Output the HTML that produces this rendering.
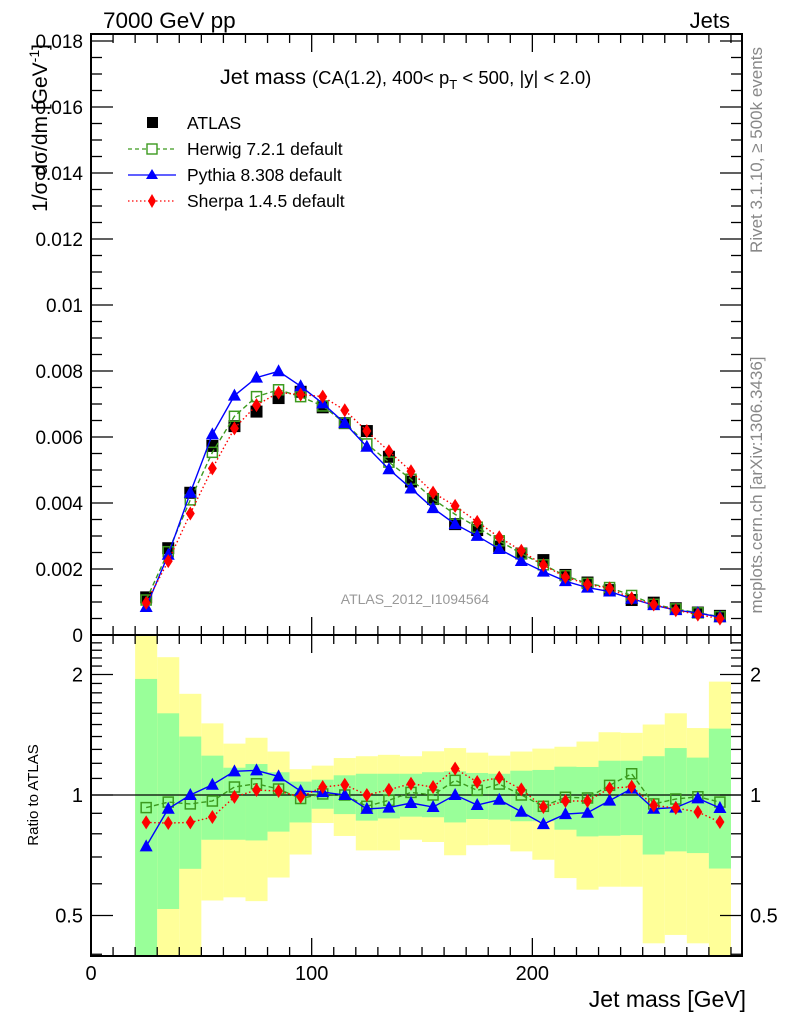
<!DOCTYPE html>
<html><head><meta charset="utf-8"><style>
body{margin:0;background:#fff}
svg{display:block;font-family:"Liberation Sans",sans-serif}
</style></head><body>
<svg id="chart" width="786" height="1024" viewBox="0 0 786 1024" xmlns="http://www.w3.org/2000/svg">
<g id="bands"></g>
<g id="marks"></g>
<g id="axes"></g>
<text x="103" y="28" font-size="22.5">7000 GeV pp</text>
<text x="730" y="28" font-size="22" text-anchor="end">Jets</text>
<text x="220" y="84" font-size="21.5">Jet mass <tspan font-size="18.5">(CA(1.2), 400&lt; p<tspan font-size="13" dy="5">T</tspan><tspan dy="-5"> &lt; 500, |y| &lt; 2.0)</tspan></tspan></text>
<text transform="translate(47,128) rotate(-90)" font-size="21" text-anchor="middle">1/σ dσ/dm [GeV<tspan font-size="14" dy="-8">-1</tspan><tspan dy="8">]</tspan></text>
<text transform="translate(38,795) rotate(-90)" font-size="15" text-anchor="middle">Ratio to ATLAS</text>
<text x="746" y="1007" font-size="23" text-anchor="end">Jet mass [GeV]</text>
<text transform="translate(762,150) rotate(-90)" font-size="17" fill="#888" text-anchor="middle">Rivet 3.1.10, ≥ 500k events</text>
<text transform="translate(762,485) rotate(-90)" font-size="17" fill="#888" text-anchor="middle">mcplots.cern.ch [arXiv:1306.3436]</text>
<text x="415" y="604" font-size="14" fill="#999" text-anchor="middle">ATLAS_2012_I1094564</text>
<g id="legend">
<g><rect x="147" y="117" width="11" height="11" fill="#000"/><text x="187" y="129" font-size="17.5">ATLAS</text></g>
<g><line x1="128" y1="149" x2="176" y2="149" stroke="#3c9a1e" stroke-width="1.3" stroke-dasharray="4,3"/><rect x="147" y="144" width="10" height="10" fill="#fff" stroke="#3c9a1e" stroke-width="1.4"/><text x="187" y="155" font-size="17.5">Herwig 7.2.1 default</text></g>
<g><line x1="128" y1="175" x2="176" y2="175" stroke="#00f" stroke-width="1.3"/><path d="M152,169 L158,179 L146,179Z" fill="#00f"/><text x="187" y="181" font-size="17.5">Pythia 8.308 default</text></g>
<g><line x1="128" y1="201" x2="176" y2="201" stroke="#f00" stroke-width="1.3" stroke-dasharray="1.5,2.5"/><path d="M152,194 L156,201 L152,208 L148,201Z" fill="#f00"/><text x="187" y="207" font-size="17.5">Sherpa 1.4.5 default</text></g>
</g>
</svg>
<script>
const centers=[25,35,45,55,65,75,85,95,105,115,125,135,145,155,165,175,185,195,205,215,225,235,245,255,265,275,285];
const atlas=[1.14,2.63,4.31,5.73,6.33,6.77,7.18,7.37,6.9,6.42,6.18,5.4,4.65,4.12,3.36,3.18,2.68,2.47,2.27,1.82,1.59,1.36,1.06,0.98,0.81,0.68,0.58];
const herwigRatio=[0.93,0.96,0.95,0.966,1.047,1.067,1.035,0.98,1.006,1.0,0.937,0.97,1.015,1.0,1.088,1.027,1.065,1.0,0.937,0.987,0.983,1.057,1.13,0.95,0.977,0.99,0.96];
const pythiaRatio=[0.744,0.924,1.0,1.061,1.146,1.152,1.113,1.023,1.017,1.0,0.923,0.93,0.955,0.933,1.0,0.944,0.973,0.908,0.846,0.896,0.903,0.968,1.037,0.924,0.93,0.981,0.928];
const sherpaRatio=[0.854,0.851,0.854,0.881,0.989,1.029,1.023,0.989,1.047,1.061,1.0,1.031,1.067,1.047,1.164,1.078,1.105,1.033,0.933,0.966,0.966,1.039,1.049,0.942,0.928,0.907,0.856];
const yellowUp=[2.7,2.21,1.79,1.51,1.344,1.39,1.284,1.16,1.184,1.237,1.25,1.26,1.25,1.286,1.31,1.276,1.254,1.284,1.306,1.32,1.36,1.435,1.43,1.5,1.6,1.47,1.92];
const greenUp=[1.95,1.6,1.4,1.254,1.17,1.195,1.14,1.08,1.092,1.12,1.13,1.13,1.13,1.14,1.146,1.135,1.13,1.15,1.155,1.177,1.175,1.218,1.218,1.25,1.31,1.24,1.465];
const greenLow=[0.3,0.519,0.654,0.773,0.773,0.77,0.81,0.854,0.924,0.896,0.863,0.874,0.883,0.88,0.854,0.871,0.868,0.86,0.86,0.819,0.788,0.791,0.794,0.71,0.723,0.716,0.655];
const yellowLow=[0.3,0.3,0.3,0.545,0.555,0.543,0.622,0.71,0.851,0.79,0.727,0.727,0.773,0.763,0.707,0.749,0.751,0.723,0.689,0.62,0.58,0.59,0.59,0.426,0.447,0.426,0.3];
const yTicks=[0,0.002,0.004,0.006,0.008,0.01,0.012,0.014,0.016,0.018];
const yTickLabels=["0","0.002","0.004","0.006","0.008","0.01","0.012","0.014","0.016","0.018"];
const xTicks=[0,100,200];
const rTicks=[0.5,1,2];
const rTickLabels=["0.5","1","2"];
const binWidth=10;

const NS="http://www.w3.org/2000/svg";
const L=91,R=742,T=34,MB=635,RB=956;
const X=v=>L+v*(R-L)/295;
const Y=v=>MB-v*33000;
const RY=v=>{let y=795-Math.log(v)*173.8;return Math.max(MB,Math.min(RB,y));};
function el(tag,attrs,parent){const e=document.createElementNS(NS,tag);for(const k in attrs)e.setAttribute(k,attrs[k]);parent.appendChild(e);return e;}
const bands=document.getElementById('bands'),marks=document.getElementById('marks'),axes=document.getElementById('axes');

centers.forEach((c,i)=>{
  const x0=X(c-binWidth/2),x1=X(c+binWidth/2);
  const yb=el('rect',{x:x0,y:RY(yellowUp[i]),width:x1-x0,height:RY(yellowLow[i])-RY(yellowUp[i]),fill:'#ffff99'},bands);
  
  
  const gb=el('rect',{x:x0,y:RY(greenUp[i]),width:x1-x0,height:RY(greenLow[i])-RY(greenUp[i]),fill:'#99ff99'},bands);
  
  
});
const one=el('line',{x1:L,x2:R,y1:RY(1),y2:RY(1),stroke:'#000','stroke-width':1.3},bands);



function marker(kind,x,y,parent){
  let m;
  if(kind==='h')m=el('rect',{x:x-5,y:y-5,width:10,height:10,fill:'none',stroke:'#3c9a1e','stroke-width':1.5},parent);
  else if(kind==='p')m=el('path',{d:`M${x},${y-7}L${x+6.5},${y+5}L${x-6.5},${y+5}Z`,fill:'#00f'},parent);
  else if(kind==='s')m=el('path',{d:`M${x},${y-7}L${x+4.5},${y}L${x},${y+7}L${x-4.5},${y}Z`,fill:'#f00'},parent);
  else m=el('rect',{x:x-6,y:y-6,width:12,height:12,fill:'#000'},parent);
  return m;
}
const series=[['h',herwigRatio,'#3c9a1e','5,3','herwig'],['p',pythiaRatio,'#00f','','pythia'],['s',sherpaRatio,'#f00','1.5,2.5','sherpa']];
centers.forEach((c,i)=>{const m=marker('a',X(c),Y(atlas[i]/1000),marks);
  
  });
series.forEach(([k,rat,col,dash,name])=>{
  const mp=centers.map((c,i)=>X(c)+','+Y(atlas[i]*rat[i]/1000)).join(' ');
  const l1=el('polyline',{points:mp,fill:'none',stroke:col,'stroke-width':1.4,'stroke-dasharray':dash},marks);
  
  
  const rp=centers.map((c,i)=>X(c)+','+RY(rat[i])).join(' ');
  const l2=el('polyline',{points:rp,fill:'none',stroke:col,'stroke-width':1.4,'stroke-dasharray':dash},marks);
  
  
  centers.forEach((c,i)=>{
    const a=marker(k,X(c),Y(atlas[i]*rat[i]/1000),marks);
    
    
    const b=marker(k,X(c),RY(rat[i]),marks);
    
    
  });
});

const f1=el('rect',{x:L,y:T,width:R-L,height:MB-T,fill:'none',stroke:'#000','stroke-width':2},axes);


const f2=el('rect',{x:L,y:MB,width:R-L,height:RB-MB,fill:'none',stroke:'#000','stroke-width':2},axes);


function tick(x1,y1,x2,y2){el('line',{x1,y1,x2,y2,stroke:'#000','stroke-width':1.3},axes);}
for(let v=0;v<=0.0182;v+=0.0005){const y=Y(v);const major=Math.abs(v/0.002-Math.round(v/0.002))<1e-6;const len=major?22:11;tick(L,y,L+len,y);tick(R,y,R-len,y);}
yTicks.forEach((v,i)=>{const t=el('text',{x:83,y:Y(v)+7,'font-size':19,'text-anchor':'end'},axes);t.textContent=yTickLabels[i];
  
  });
for(let v=0;v<=295;v+=10){const x=X(v);const major=v%100===0;const len=major?18:9;
  tick(x,MB,x,MB-len);tick(x,T,x,T+len);tick(x,MB,x,MB+len);tick(x,RB,x,RB-len);}
xTicks.forEach(v=>{const t=el('text',{x:X(v),y:980,'font-size':20,'text-anchor':'middle'},axes);t.textContent=String(v);
  
  });
const rminor=[0.4,0.5,0.6,0.7,0.8,0.9,1,1.1,1.2,1.3,1.4,1.5,1.6,1.7,1.8,1.9,2,2.1,2.2,2.3,2.4];
rminor.forEach(v=>{const y=795-Math.log(v)*173.8;if(y<MB||y>RB)return;const major=rTicks.includes(v);const len=major?22:11;tick(L,y,L+len,y);tick(R,y,R-len,y);});
rTicks.forEach((v,i)=>{const y=795-Math.log(v)*173.8;
  const t=el('text',{x:83,y:y+7,'font-size':20,'text-anchor':'end'},axes);t.textContent=rTickLabels[i];
  
  
  const t2=el('text',{x:750,y:y+7,'font-size':20},axes);t2.textContent=rTickLabels[i];
  
  });
</script>
</body></html>
